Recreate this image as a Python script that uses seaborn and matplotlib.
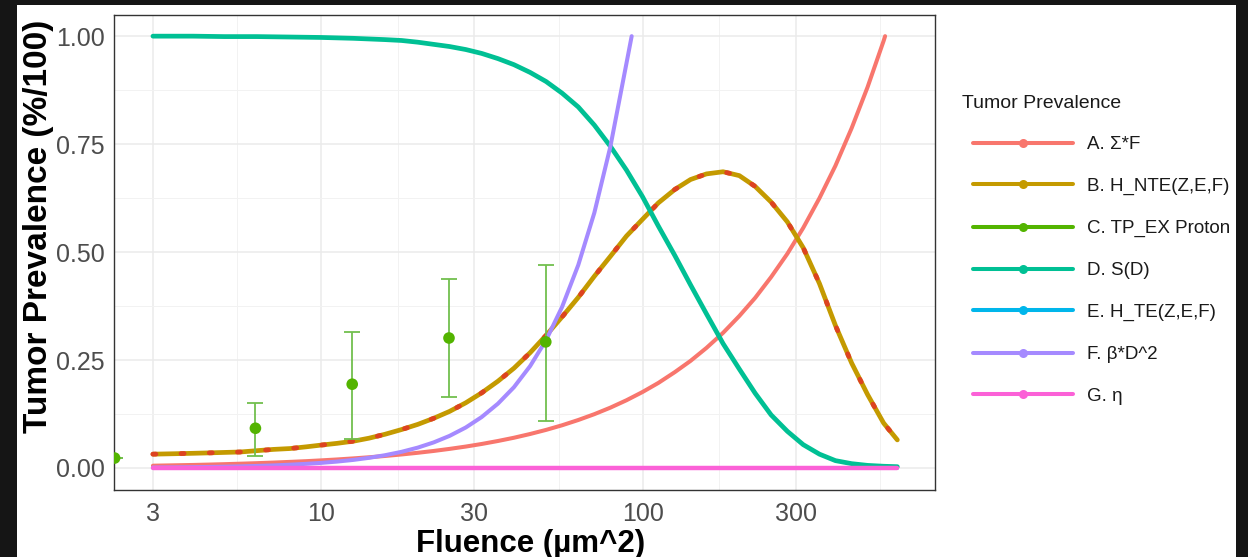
import numpy as np
import pandas as pd
import matplotlib
matplotlib.use("Agg")
import matplotlib.pyplot as plt
from matplotlib.lines import Line2D
from matplotlib.patches import Rectangle
from matplotlib.ticker import FixedLocator, NullFormatter
import seaborn as sns

# ---- model curves: tumor prevalence (fraction) versus fluence ----
fluence_a = [3, 3.5, 4, 4.5, 5, 5.6, 6.3, 7.1, 8, 9, 10, 11.2, 12.6, 14.1, 15.8,
             17.8, 20, 22.4, 25.1, 28.2, 31.6, 35.5, 39.8, 44.7, 50.1, 56.2, 63.1,
             70.8, 79.4, 89.1, 100, 112, 126, 141, 158, 178, 200, 224, 251, 282,
             316, 355, 398, 447, 501, 562, 568]
prev_a = [0.0053, 0.0062, 0.0070, 0.0079, 0.0088, 0.0099, 0.0111, 0.0125, 0.0141,
          0.0158, 0.0176, 0.0197, 0.0222, 0.0248, 0.0278, 0.0313, 0.0352, 0.0394,
          0.0442, 0.0496, 0.0556, 0.0625, 0.0700, 0.0787, 0.0882, 0.0989, 0.1111,
          0.1246, 0.1397, 0.1568, 0.176, 0.197, 0.222, 0.248, 0.278, 0.313, 0.352,
          0.394, 0.442, 0.496, 0.556, 0.625, 0.700, 0.787, 0.882, 0.989, 1.000]

fluence_b = [3, 3.5, 4, 4.5, 5, 5.6, 6.3, 7.1, 8, 9, 10, 11.2, 12.6, 14.1, 15.8,
             17.8, 20, 22.4, 25.1, 28.2, 31.6, 35.5, 39.8, 44.7, 50.1, 56.2, 63.1,
             70.8, 79.4, 89.1, 100, 112, 126, 141, 158, 178, 200, 224, 251, 282,
             316, 355, 398, 447, 501, 562, 620]
prev_b = [0.032, 0.033, 0.034, 0.035, 0.036, 0.037, 0.040, 0.043, 0.045, 0.049,
          0.053, 0.057, 0.062, 0.069, 0.078, 0.089, 0.101, 0.115, 0.131, 0.151,
          0.174, 0.201, 0.231, 0.267, 0.307, 0.350, 0.395, 0.444, 0.490, 0.537,
          0.576, 0.614, 0.645, 0.668, 0.681, 0.686, 0.677, 0.652, 0.616, 0.570,
          0.510, 0.427, 0.330, 0.243, 0.170, 0.104, 0.065]

fluence_d = [3, 4, 5, 6.3, 8, 10, 12.6, 15.8, 17.8, 20, 22.4, 25.1, 28.2, 31.6,
             35.5, 39.8, 44.7, 50.1, 56.2, 63.1, 70.8, 79.4, 89.1, 100, 112, 126,
             141, 158, 178, 200, 224, 251, 282, 316, 355, 398, 447, 501, 562, 620]
prev_d = [1.000, 1.000, 0.999, 0.999, 0.998, 0.997, 0.995, 0.992, 0.990, 0.986,
          0.981, 0.976, 0.969, 0.960, 0.948, 0.934, 0.916, 0.895, 0.868, 0.836,
          0.794, 0.745, 0.690, 0.628, 0.560, 0.492, 0.424, 0.357, 0.288, 0.229,
          0.173, 0.123, 0.085, 0.054, 0.032, 0.017, 0.010, 0.006, 0.004, 0.003]

fluence_e = [3, 620]
prev_e = [0.0005, 0.0005]

fluence_f = [3, 3.5, 4, 4.5, 5, 5.6, 6.3, 7.1, 8, 9, 10, 11.2, 12.6, 14.1, 15.8,
             17.8, 20, 22.4, 25.1, 28.2, 31.6, 35.5, 39.8, 44.7, 50.1, 56.2, 63.1,
             70.8, 79.4, 89.1, 92.5]
prev_f = [0.0011, 0.0014, 0.0019, 0.0024, 0.0030, 0.0037, 0.0047, 0.0059, 0.0076,
          0.0096, 0.0118, 0.0148, 0.0187, 0.0235, 0.0295, 0.0374, 0.0472, 0.0592,
          0.0743, 0.0938, 0.118, 0.149, 0.187, 0.236, 0.296, 0.373, 0.470, 0.591,
          0.744, 0.937, 1.000]

fluence_g = [3, 620]
prev_g = [0.001, 0.001]

# ---- observed proton data with error bars ----
obs_fluence = [2.28, 6.25, 12.5, 25, 50]
obs_prev = [0.023, 0.092, 0.194, 0.301, 0.292]
obs_lo = [0.023, 0.028, 0.067, 0.164, 0.109]
obs_hi = [0.023, 0.150, 0.315, 0.438, 0.470]

series_labels = ["A. \u03a3*F", "B. H_NTE(Z,E,F)", "C. TP_EX Proton", "D. S(D)",
                 "E. H_TE(Z,E,F)", "F. \u03b2*D^2", "G. \u03b7"]
series_colors = ["#F8766D", "#C49A00", "#53B400", "#00C094", "#00B6EB",
                 "#A58AFF", "#FB61D7"]
x_ticks = [3, 10, 30, 100, 300]
x_minor = [1.73, 5.48, 17.3, 54.8, 173, 548]
y_ticks = [0.0, 0.25, 0.50, 0.75, 1.00]
y_minor = [0.125, 0.375, 0.625, 0.875]

sns.set_style("white")
plt.rcParams["font.family"] = ["Liberation Sans", "DejaVu Sans"]

W, H = 1248, 557
fig = plt.figure(figsize=(W / 100, H / 100), dpi=100)
fig.patch.set_facecolor("white")
ax = fig.add_axes([114 / W, 1 - 490 / H, 821 / W, 475 / H])
ax.set_facecolor("white")

LW = 2.9
col = dict(zip(series_labels, series_colors))

sns.lineplot(x=fluence_a, y=prev_a, color=col[series_labels[0]], linewidth=LW,
             ax=ax, zorder=3)
sns.lineplot(x=fluence_b, y=prev_b, color=col[series_labels[1]], linewidth=LW + 0.5,
             ax=ax, zorder=4)
# red dotted trace running along the H_NTE curve
ax.plot(fluence_b, prev_b, color="#E03A24", linewidth=LW + 0.6, zorder=5, alpha=0.9,
        linestyle=(0, (0.6, 5.2)), dash_capstyle="round")
sns.lineplot(x=fluence_d, y=prev_d, color=col[series_labels[3]], linewidth=LW + 0.5,
             ax=ax, zorder=6)
sns.lineplot(x=fluence_f, y=prev_f, color=col[series_labels[5]], linewidth=LW,
             ax=ax, zorder=6)
sns.lineplot(x=fluence_e, y=prev_e, color=col[series_labels[4]], linewidth=LW - 1,
             ax=ax, zorder=6)
sns.lineplot(x=fluence_g, y=prev_g, color=col[series_labels[6]], linewidth=LW + 0.3,
             ax=ax, zorder=7)

# observed points with error bars
yerr = [np.array(obs_prev) - np.array(obs_lo), np.array(obs_hi) - np.array(obs_prev)]
ax.errorbar(obs_fluence, obs_prev, yerr=yerr, fmt="none", ecolor="#72BF4E",
            elinewidth=1.3, capsize=5.8, capthick=1.3, zorder=8)
sns.scatterplot(x=obs_fluence, y=obs_prev, color=col[series_labels[2]], s=70,
                edgecolor="none", ax=ax, zorder=9)

# axes and scales
ax.set_xscale("log")
ax.set_xlim(2.27, 812)
ax.set_ylim(-0.051, 1.049)
ax.xaxis.set_major_locator(FixedLocator(x_ticks))
ax.xaxis.set_minor_locator(FixedLocator(x_minor))
ax.xaxis.set_minor_formatter(NullFormatter())
ax.set_xticklabels([str(t) for t in x_ticks])
ax.yaxis.set_major_locator(FixedLocator(y_ticks))
ax.yaxis.set_minor_locator(FixedLocator(y_minor))
ax.set_yticklabels(["%.2f" % t for t in y_ticks])

ax.grid(True, which="major", color="#EBEBEB", linewidth=1.1, zorder=0)
ax.grid(True, which="minor", color="#F2F2F2", linewidth=0.7, zorder=0)
ax.set_axisbelow(True)
for s in ax.spines.values():
    s.set_color("#333333")
    s.set_linewidth(1.0)
ax.tick_params(axis="both", which="major", length=3.5, width=0.9, color="#333333",
               labelsize=18, labelcolor="#4D4D4D", direction="out", pad=3)
ax.tick_params(axis="x", which="major", pad=5)
ax.tick_params(axis="both", which="minor", length=0)

ax.set_xlabel("Fluence (\u00b5m^2)", fontsize=22.5, fontweight="bold", color="black",
              labelpad=2)
ax.set_ylabel("Tumor Prevalence (%/100)", fontsize=24, fontweight="bold",
              color="black", labelpad=1.5)
ax.xaxis.label.set_x((531 - 114) / 821)
ax.yaxis.label.set_y((490 - 226) / 475)

# legend
handles = [Line2D([0], [0], color=c, lw=LW, marker="o", markersize=6.5,
                  markeredgewidth=0) for c in series_colors]
leg = ax.legend(handles, series_labels, loc="upper left",
                bbox_to_anchor=(973 / W, 1 - 136 / H), bbox_transform=fig.transFigure,
                frameon=False, fontsize=13.5, handlelength=5.33, handletextpad=0.75,
                labelspacing=1.32, borderpad=0, borderaxespad=0)
for t in leg.get_texts():
    t.set_color("#1A1A1A")
fig.text(962 / W, 1 - 103 / H, "Tumor Prevalence", fontsize=14, color="#1A1A1A",
         ha="left", va="center")

# dark surround of the figure
for x0, y0, w, h in [(0, 0, 17, H), (0, 0, W, 5), (1236, 0, W - 1236, H)]:
    fig.patches.append(Rectangle((x0 / W, 1 - (y0 + h) / H), w / W, h / H,
                                 transform=fig.transFigure, facecolor="#151515",
                                 edgecolor="none", zorder=20))

fig.savefig("out.png", dpi=100)
